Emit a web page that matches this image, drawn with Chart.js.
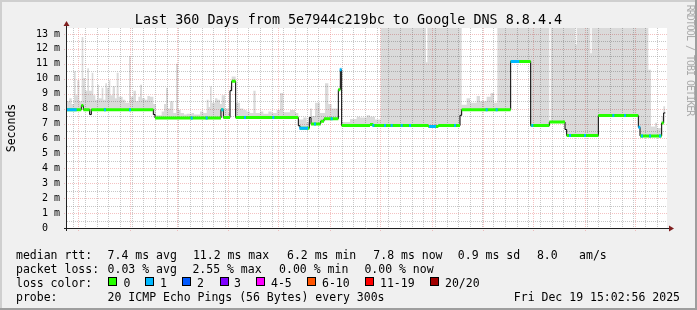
<!DOCTYPE html>
<html>
<head>
<meta charset="utf-8">
<script src="https://cdn.jsdelivr.net/npm/chart.js@4.4.1/dist/chart.umd.min.js"></script>
<style>
  body { margin: 0; background: #f0f0f0; }
  #wrap { position: relative; width: 697px; height: 310px; overflow: hidden; font-family: "DejaVu Sans Mono", monospace; color: #000; }
  canvas { position: absolute; left: 0; top: 0; }
  .t { position: absolute; white-space: pre; font-size: 11.5px; line-height: 14px; }
  .box { position: absolute; width: 7px; height: 7px; border: 1px solid #000; }
</style>
</head>
<body>
<div id="wrap">
  <canvas id="chart" width="697" height="310"></canvas>
  <div class="t" id="title" style="left:0;top:11.5px;width:697px;text-align:center;font-size:13.4px;line-height:16px;"></div>
  <div class="t" style="left:-19px;top:121px;width:60px;text-align:center;transform:rotate(-90deg);">Seconds</div>
  <div class="t" style="left:629.5px;top:54px;width:120px;text-align:center;font-size:10px;line-height:12px;letter-spacing:-1px;color:#acacac;transform:rotate(90deg);">RRDTOOL / TOBI OETIKER</div>
</div>
<script>
const titleText = "Last 360 Days from 5e7944c219bc to Google DNS 8.8.4.4";

// x axis is days since 1 Jan 2025
const xMin = -6.8, xMax = 353.2, endDay = 352.2;
const monthStartDays = [0, 31, 59, 90, 120, 151, 181, 212, 243, 273, 304, 334];
const monthLabelDays = [15, 74, 135, 196, 258, 319];
const monthLabels = ["January 2025", "March 2025", "May 2025", "July 2025", "September 2025", "November 2025"];

const yTicks = [0, 1, 2, 3, 4, 5, 6, 7, 8, 9, 10, 11, 12, 13];
const yTickLabels = ["0  ", "1 m", "2 m", "3 m", "4 m", "5 m", "6 m", "7 m", "8 m", "9 m", "10 m", "11 m", "12 m", "13 m"];

// median rtt (ms), step changes
const medianDays = [-6.8, 1.8, 3.0, 6.8, 7.8, 45.0, 46.0, 85.6, 87.0, 91.0, 92.0, 94.4, 132.0, 133.0, 138.6, 139.6, 145.4, 147.4, 156.0, 157.2,
  158.0, 175.0, 177.0, 210.0, 216.0, 229.0, 230.0, 259.4, 271.4, 282.6, 292.0, 293.0, 312.0, 336.0, 337.0, 350.0, 351.2];
const medianMs = [7.93, 8.2, 7.93, 7.6, 7.93, 7.6, 7.37, 7.93, 7.4, 9.2, 9.83, 7.4, 6.85, 6.68, 7.4, 6.97, 7.15, 7.32, 9.27, 10.6,
  6.86, 6.93, 6.86, 6.8, 6.86, 7.55, 7.93, 11.16, 6.86, 7.1, 6.6, 6.19, 7.53, 6.75, 6.17, 7.04, 7.71];

// smoke: highest ping per step (ms), 14 = off the top
const smokeDays = [-6.8, -5.4, -4.0, -2.6, -1.6, -0.6, 0.6, 2.0, 3.0, 4.2, 5.4, 6.4, 8.0, 9.0, 10.2, 11.4, 12.4, 14.0, 15.0, 16.2,
  17.2, 18.2, 19.2, 20.6, 22.0, 23.0, 24.2, 26.6, 28.2, 30.4, 31.4, 33.0, 34.6, 36.0, 37.0, 38.2, 40.0, 41.4, 43.0, 45.0,
  46.6, 50.0, 51.4, 52.6, 53.8, 55.0, 57.0, 58.6, 59.8, 61.4, 63.4, 65.0, 68.0, 69.4, 73.0, 75.0, 77.0, 78.2, 79.0, 80.0,
  82.0, 83.4, 85.0, 86.0, 88.0, 90.0, 91.0, 92.0, 94.4, 97.0, 99.0, 101.0, 103.0, 105.0, 106.4, 109.0, 111.0, 114.0, 116.0, 119.0,
  121.0, 123.0, 127.0, 130.0, 132.0, 135.0, 137.0, 139.0, 140.2, 142.0, 145.0, 148.0, 150.0, 152.0, 156.0, 157.2, 158.0, 163.0, 167.0, 169.0,
  173.0, 175.0, 178.0, 181.4, 208.6, 209.4, 230.0, 233.0, 235.0, 239.0, 241.0, 245.0, 247.4, 249.4, 251.4, 282.6, 283.4, 298.2, 299.0, 307.2,
  308.0, 342.0, 343.6, 346.0, 347.2, 350.0, 351.0];
const smokeTopMs = [8.5, 8.7, 8.3, 10.5, 8.9, 9.9, 8.5, 12.8, 10.05, 9.2, 10.7, 9.2, 10.4, 8.9, 8.6, 9.6, 8.7, 9.4, 8.6, 9.7,
  9.4, 9.9, 8.9, 9.5, 8.7, 10.4, 8.8, 8.6, 8.4, 11.5, 8.8, 9.2, 8.5, 8.8, 9.6, 8.7, 8.6, 8.85, 8.8, 8.3,
  7.55, 7.8, 8.3, 9.4, 8.0, 8.5, 7.7, 11.0, 7.9, 7.7, 7.6, 7.65, 7.7, 7.6, 7.8, 7.7, 8.6, 8.1, 9.5, 8.4,
  8.7, 8.6, 8.3, 8.9, 8.0, 7.7, 9.5, 10.15, 8.4, 8.0, 7.9, 7.8, 7.7, 9.2, 7.7, 7.8, 7.65, 7.8, 7.7, 7.9,
  9.05, 7.75, 7.9, 7.7, 7.27, 7.4, 7.1, 8.0, 7.5, 8.4, 7.7, 9.7, 8.3, 8.0, 9.4, 10.75, 7.1, 7.3, 7.45, 7.4,
  7.55, 7.45, 7.27, 14, 11.1, 14, 8.26, 8.7, 8.4, 8.85, 8.5, 8.8, 9.05, 8.4, 14, 7.1, 14, 12.3, 14, 11.7,
  14, 10.6, 6.8, 7.05, 6.7, 7.5, 8.15];

// days with 1 of 20 pings lost
const lossDays = [-6.5, -5.5, -4.5, -3.5, -2.5, -1.6, 16.0, 31.0, 68.0, 77.0, 86.4, 100.0, 117.0, 133.2, 134.2, 135.2, 136.2, 137.2, 142.0, 152.0,
  157.4, 177.0, 184.0, 188.0, 194.0, 199.0, 211.0, 212.0, 213.0, 214.0, 226.0, 245.0, 251.0, 260.0, 261.0, 262.0, 263.0, 264.0, 272.4, 295.0,
  304.0, 321.0, 328.0, 336.6, 338.2, 343.0, 349.0];

const rttStats = ["7.4 ms avg", "11.2 ms max", "6.2 ms min", "7.8 ms now", "0.9 ms sd", "8.0", "am/s"];
const lossStats = ["0.03 % avg", "2.55 % max", "0.00 % min", "0.00 % now"];
const lossLabels = ["0", "1", "2", "3", "4-5", "6-10", "11-19", "20/20"];
const lossColors = ["#26ff00", "#00b8ff", "#0059ff", "#7e00ff", "#ff00ff", "#ff5500", "#ff0000", "#a10000"];
const probeText = "20 ICMP Echo Pings (56 Bytes) every 300s";
const stampText = "Fri Dec 19 15:02:56 2025";

// ---- legend (html text) ----
const wrap = document.getElementById("wrap");
document.getElementById("title").textContent = titleText;
function addText(txt, x, top, extra) {
  const d = document.createElement("div");
  d.className = "t";
  d.textContent = txt;
  d.style.left = x + "px";
  d.style.top = top + "px";
  if (extra) Object.assign(d.style, extra);
  wrap.appendChild(d);
  return d;
}
const rowTop = [247.5, 261.5, 275.5, 289.5];
addText("median rtt:", 16, rowTop[0]);
[107.6, 192.9, 287, 373.3, 457.8, 536.9, 579.1].forEach((x, i) => addText(rttStats[i], x, rowTop[0]));
addText("packet loss:", 16, rowTop[1]);
[107.6, 192.4, 279.1, 364.4].forEach((x, i) => addText(lossStats[i], x, rowTop[1]));
addText("loss color:", 16, rowTop[2]);
const boxX = [108, 145, 182, 220, 256, 307, 365, 430];
const lblX = [123.6, 160, 197, 234, 271, 322, 380, 445];
lossLabels.forEach((l, i) => {
  const b = document.createElement("div");
  b.className = "box";
  b.style.left = boxX[i] + "px";
  b.style.top = "277px";
  b.style.background = lossColors[i];
  wrap.appendChild(b);
  addText(l, lblX[i], rowTop[2]);
});
addText("probe:", 16, rowTop[3]);
addText(probeText, 107.6, rowTop[3]);
addText(stampText, 0, rowTop[3], { left: "auto", right: "17px" });

// ---- series built from the arrays ----
function stepAt(days, vals, d) {
  let v = vals[0];
  for (let i = 0; i < days.length; i++) {
    if (days[i] <= d + 1e-9) v = vals[i];
    else break;
  }
  return v;
}

const breaks = Array.from(new Set(medianDays.concat(smokeDays, [endDay])))
  .filter(d => d <= endDay).sort((a, b) => a - b);
const smokeTop = [], smokeBase = [];
breaks.forEach(d => {
  const base = stepAt(medianDays, medianMs, d);
  const top = Math.max(stepAt(smokeDays, smokeTopMs, d), base);
  smokeTop.push({ x: d, y: top });
  smokeBase.push({ x: d, y: base });
});

const medianLine = medianDays.map((d, i) => ({ x: d, y: medianMs[i] }));
medianLine.push({ x: endDay, y: medianMs[medianMs.length - 1] });

const greenPieces = [];
medianDays.forEach((d, i) => {
  const next = i + 1 < medianDays.length ? medianDays[i + 1] : endDay;
  if (next - d < 1.1) return;
  greenPieces.push({ x: d, y: medianMs[i] }, { x: next, y: medianMs[i] }, { x: next, y: null });
});

const bluePieces = [];
lossDays.forEach(d => {
  const v = stepAt(medianDays, medianMs, d);
  bluePieces.push({ x: d - 0.6, y: v }, { x: d + 0.6, y: v }, { x: d + 0.6, y: null });
});

// ---- rrdtool look: frame, grid, axes ----
const rrdLook = {
  id: "rrdLook",
  beforeDraw(chart) {
    const c = chart.ctx, a = chart.chartArea;
    c.save();
    c.fillStyle = "#f0f0f0";
    c.fillRect(0, 0, chart.width, chart.height);
    c.fillStyle = "#cfcfcf";
    c.fillRect(0, 0, chart.width, 2);
    c.fillRect(0, 0, 2, chart.height);
    c.fillStyle = "#9e9e9e";
    c.fillRect(0, chart.height - 2, chart.width, 2);
    c.fillRect(chart.width - 2, 0, 2, chart.height);
    c.fillStyle = "#ffffff";
    c.fillRect(a.left, a.top, a.right - a.left, a.bottom - a.top);
    c.restore();
  },
  beforeDatasetsDraw(chart) {
    const c = chart.ctx, a = chart.chartArea, xs = chart.scales.x, ys = chart.scales.y;
    c.save();
    c.lineWidth = 1;
    c.setLineDash([1, 1]);
    // minor grid
    c.strokeStyle = "rgba(143,143,143,0.5)";
    c.beginPath();
    for (let v = 0.5; v < ys.max; v += 1) {
      const y = Math.round(ys.getPixelForValue(v)) + 0.5;
      c.moveTo(a.left, y); c.lineTo(a.right, y);
    }
    for (let d = -3; d < xMax; d += 7) {
      if (d < xMin || monthStartDays.includes(d)) continue;
      const x = Math.round(xs.getPixelForValue(d)) + 0.5;
      c.moveTo(x, a.top); c.lineTo(x, a.bottom);
    }
    c.stroke();
    // major grid
    c.strokeStyle = "rgba(230,120,120,0.45)";
    c.beginPath();
    yTicks.forEach(v => {
      if (v === 0) return;
      const y = Math.round(ys.getPixelForValue(v)) + 0.5;
      c.moveTo(a.left - 3, y); c.lineTo(a.right, y);
    });
    monthStartDays.forEach(d => {
      const x = Math.round(xs.getPixelForValue(d)) + 0.5;
      c.moveTo(x, a.top); c.lineTo(x, a.bottom + 3);
    });
    c.stroke();
    c.restore();
  },
  afterDatasetsDraw(chart) {
    const c = chart.ctx, a = chart.chartArea;
    const x0 = a.left - 0.5, y0 = a.bottom + 0.5;
    c.save();
    c.strokeStyle = "#202020";
    c.lineWidth = 1;
    c.beginPath();
    c.moveTo(x0, a.bottom + 3); c.lineTo(x0, a.top - 2);
    c.moveTo(a.left - 3, y0); c.lineTo(a.right + 2, y0);
    c.stroke();
    c.fillStyle = "#7f1f1f";
    c.beginPath();
    c.moveTo(x0 - 3, a.top - 2); c.lineTo(x0 + 3, a.top - 2); c.lineTo(x0, a.top - 7); c.closePath();
    c.fill();
    c.beginPath();
    c.moveTo(a.right + 2, y0 - 3); c.lineTo(a.right + 2, y0 + 3); c.lineTo(a.right + 7, y0); c.closePath();
    c.fill();
    c.restore();
  }
};

const tickFont = { family: "'DejaVu Sans Mono', monospace", size: 9.8 };

new Chart(document.getElementById("chart"), {
  type: "line",
  data: {
    datasets: [
      { data: smokeTop, stepped: "before", borderWidth: 0, pointRadius: 0, fill: "+1",
        backgroundColor: "rgba(0,0,0,0.145)", order: 4 },
      { data: smokeBase, stepped: "before", borderWidth: 0, pointRadius: 0, fill: false, order: 5 },
      { data: medianLine, stepped: "before", borderColor: "#000000", borderWidth: 1, pointRadius: 0, fill: false, order: 3 },
      { data: greenPieces, borderColor: lossColors[0], borderWidth: 3, pointRadius: 0, fill: false, spanGaps: false, order: 2 },
      { data: bluePieces, borderColor: lossColors[1], borderWidth: 3, pointRadius: 0, fill: false, spanGaps: false, order: 1 }
    ]
  },
  options: {
    responsive: false,
    animation: false,
    events: [],
    layout: { padding: { left: 0, right: 30, top: 28, bottom: 82 } },
    plugins: { legend: { display: false }, tooltip: { enabled: false } },
    elements: { line: { tension: 0, borderCapStyle: "butt" } },
    scales: {
      x: {
        type: "linear", min: xMin, max: xMax,
        grid: { display: false, drawTicks: false },
        border: { display: false },
        afterFit: s => { s.height = 0; },
        afterBuildTicks: s => { s.ticks = monthLabelDays.map(v => ({ value: v })); },
        ticks: { autoSkip: false, maxRotation: 0, padding: 5, color: "#000", font: tickFont,
          callback: (v, i) => monthLabels[i] }
      },
      y: {
        type: "linear", min: 0, max: 13.4,
        grid: { display: false, drawTicks: false },
        border: { display: false },
        afterFit: s => { s.width = 67; },
        afterBuildTicks: s => { s.ticks = yTicks.map(v => ({ value: v })); },
        ticks: { padding: 7, color: "#000", font: { family: "'DejaVu Sans Mono', monospace", size: 10 },
          callback: (v, i) => yTickLabels[i] }
      }
    }
  },
  plugins: [rrdLook]
});
</script>
</body>
</html>
